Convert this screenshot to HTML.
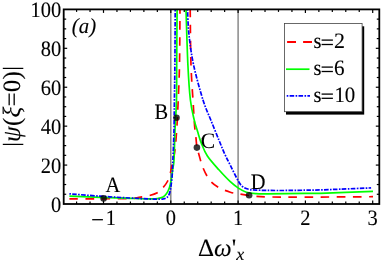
<!DOCTYPE html>
<html><head><meta charset="utf-8">
<style>
html,body{margin:0;padding:0;background:#fff;}
body{width:381px;height:262px;overflow:hidden;}
svg{display:block;will-change:transform;}
text{font-family:"Liberation Serif",serif;fill:#000;stroke:#000;stroke-width:0.1px;text-rendering:geometricPrecision;}
</style></head><body>
<svg width="381" height="262" viewBox="0 0 381 262">
<rect width="381" height="262" fill="#fff"/>
<clipPath id="c1"><rect x="0" y="164.8" width="381" height="60"/></clipPath><clipPath id="c2"><rect x="0" y="0" width="381" height="164.8"/></clipPath>
<clipPath id="c"><rect x="63.7" y="9.4" width="315.6" height="194.6"/></clipPath>
<g stroke="#808080" stroke-width="1.4">
<line x1="170.8" y1="9.4" x2="170.8" y2="204.0"/>
<line x1="238.10" y1="9.4" x2="238.10" y2="204.0"/>
</g>
<g fill="none" stroke-width="1.7" clip-path="url(#c)">
<path d="M69.40,198.80C74.50,198.80 89.90,198.85 100.00,198.80C110.10,198.75 123.50,198.73 130.00,198.50C136.50,198.27 135.80,197.88 139.00,197.40C142.20,196.92 146.15,196.38 149.20,195.60C152.25,194.82 154.98,194.05 157.30,192.70C159.62,191.35 161.37,189.45 163.10,187.50C164.83,185.55 166.45,183.58 167.70,181.00C168.95,178.42 169.88,174.70 170.60,172.00C171.32,169.30 171.27,168.47 172.00,164.80C172.73,161.13 174.50,152.47 175.00,150.00" stroke="#ff0000" stroke-dasharray="8.6 7.5" clip-path="url(#c1)"/>
<path d="M170.60,172.00C170.83,170.80 171.27,168.47 172.00,164.80C172.73,161.13 174.17,156.63 175.00,150.00C175.83,143.37 176.47,133.33 177.00,125.00C177.53,116.67 177.78,110.00 178.20,100.00C178.62,90.00 179.20,80.12 179.50,65.00C179.80,49.88 179.92,18.58 180.00,9.30" stroke="#ff0000" stroke-dasharray="8.6 7.4" stroke-dashoffset="1.15" clip-path="url(#c2)"/>
<path d="M190.20,9.50C190.33,18.75 190.48,49.08 191.00,65.00C191.52,80.92 192.70,94.87 193.30,105.00C193.90,115.13 194.17,120.42 194.60,125.80C195.03,131.18 195.52,133.77 195.90,137.30C196.28,140.83 196.43,144.27 196.90,147.00C197.37,149.73 197.70,150.28 198.70,153.70C199.70,157.12 201.07,163.10 202.90,167.50C204.73,171.90 207.03,176.75 209.70,180.10C212.37,183.45 215.47,185.58 218.90,187.60C222.33,189.62 227.05,191.17 230.30,192.20C233.55,193.23 235.25,193.25 238.40,193.80C241.55,194.35 244.43,194.98 249.20,195.50C253.97,196.02 257.70,196.63 267.00,196.90C276.30,197.17 287.33,197.13 305.00,197.10C322.67,197.07 361.67,196.77 373.00,196.70" stroke="#ff0000" stroke-dasharray="8.6 7.47" stroke-dashoffset="0.8"/>
<path d="M69.40,196.20C74.50,196.38 89.90,196.95 100.00,197.30C110.10,197.65 121.67,198.03 130.00,198.30C138.33,198.57 145.45,198.83 150.00,198.90C154.55,198.97 155.12,199.00 157.30,198.70C159.48,198.40 161.55,197.95 163.10,197.10C164.65,196.25 165.63,194.95 166.60,193.60C167.57,192.25 168.28,190.53 168.90,189.00C169.52,187.47 169.92,185.93 170.30,184.40C170.68,182.87 170.90,181.53 171.20,179.80C171.50,178.07 171.82,175.97 172.10,174.00C172.38,172.03 172.58,170.33 172.90,168.00C173.22,165.67 173.65,166.33 174.00,160.00C174.35,153.67 174.58,140.00 175.00,130.00C175.42,120.00 176.22,110.83 176.50,100.00C176.78,89.17 176.60,80.08 176.70,65.00C176.80,49.92 177.03,18.75 177.10,9.50" stroke="#00ff00"/>
<path d="M186.00,9.50C186.32,18.75 187.17,49.92 187.90,65.00C188.63,80.08 189.35,90.83 190.40,100.00C191.45,109.17 193.00,114.75 194.20,120.00C195.40,125.25 196.42,127.65 197.60,131.50C198.78,135.35 199.67,139.02 201.30,143.10C202.93,147.18 204.47,151.55 207.40,156.00C210.33,160.45 215.08,165.52 218.90,169.80C222.72,174.08 227.05,178.65 230.30,181.70C233.55,184.75 235.72,186.35 238.40,188.10C241.08,189.85 243.47,191.28 246.40,192.20C249.33,193.12 252.57,193.33 256.00,193.60C259.43,193.87 258.83,193.83 267.00,193.80C275.17,193.77 296.17,193.48 305.00,193.40C313.83,193.32 308.67,193.63 320.00,193.30C331.33,192.97 364.17,191.72 373.00,191.40" stroke="#00ff00"/>
<path d="M69.40,193.80C74.50,194.20 89.90,195.50 100.00,196.20C110.10,196.90 121.67,197.53 130.00,198.00C138.33,198.47 145.00,198.80 150.00,199.00C155.00,199.20 157.82,199.20 160.00,199.20C162.18,199.20 162.00,199.25 163.10,199.00C164.20,198.75 165.63,198.40 166.60,197.70C167.57,197.00 168.28,196.05 168.90,194.80C169.52,193.55 169.92,191.93 170.30,190.20C170.68,188.47 170.90,186.68 171.20,184.40C171.50,182.12 171.87,179.23 172.10,176.50C172.33,173.77 172.47,170.75 172.60,168.00C172.73,165.25 172.67,166.33 172.90,160.00C173.13,153.67 173.75,140.00 174.00,130.00C174.25,120.00 174.25,110.83 174.40,100.00C174.55,89.17 174.77,80.08 174.90,65.00C175.03,49.92 175.15,18.75 175.20,9.50" stroke="#0000ff" stroke-dasharray="1.6 1.3 4.6 1.4"/>
<path d="M187.50,9.50C187.75,13.75 187.98,25.75 189.00,35.00C190.02,44.25 191.27,54.17 193.60,65.00C195.93,75.83 200.13,90.83 203.00,100.00C205.87,109.17 208.15,113.33 210.80,120.00C213.45,126.67 216.60,134.38 218.90,140.00C221.20,145.62 222.70,149.50 224.60,153.70C226.50,157.90 228.00,160.62 230.30,165.20C232.60,169.78 236.30,177.58 238.40,181.20C240.50,184.82 241.18,185.55 242.90,186.90C244.62,188.25 246.52,188.77 248.70,189.30C250.88,189.83 251.20,189.90 256.00,190.10C260.80,190.30 269.33,190.48 277.50,190.50C285.67,190.52 297.92,190.30 305.00,190.20C312.08,190.10 314.17,190.07 320.00,189.90C325.83,189.73 331.48,189.53 340.00,189.20C348.52,188.87 365.92,188.12 371.10,187.90" stroke="#0000ff" stroke-dasharray="1.6 1.3 4.6 1.4"/>
</g>
<g fill="#000" fill-opacity="0.78">
<circle cx="103.6" cy="198.4" r="3.3"/>
<circle cx="176.5" cy="117.8" r="3.3"/>
<circle cx="196.9" cy="147.6" r="3.3"/>
<circle cx="249.1" cy="195.2" r="3.3"/>
</g>
<rect x="63.7" y="9.4" width="315.6" height="194.6" fill="none" stroke="#000" stroke-width="1.8"/>
<g stroke="#000" stroke-width="1.2">
<line x1="76.58" y1="204.0" x2="76.58" y2="201.5"/><line x1="76.58" y1="9.4" x2="76.58" y2="11.9"/><line x1="90.04" y1="204.0" x2="90.04" y2="201.5"/><line x1="90.04" y1="9.4" x2="90.04" y2="11.9"/><line x1="103.50" y1="204.0" x2="103.50" y2="200.5"/><line x1="103.50" y1="9.4" x2="103.50" y2="12.9"/><line x1="116.96" y1="204.0" x2="116.96" y2="201.5"/><line x1="116.96" y1="9.4" x2="116.96" y2="11.9"/><line x1="130.42" y1="204.0" x2="130.42" y2="201.5"/><line x1="130.42" y1="9.4" x2="130.42" y2="11.9"/><line x1="143.88" y1="204.0" x2="143.88" y2="201.5"/><line x1="143.88" y1="9.4" x2="143.88" y2="11.9"/><line x1="157.34" y1="204.0" x2="157.34" y2="201.5"/><line x1="157.34" y1="9.4" x2="157.34" y2="11.9"/><line x1="170.80" y1="204.0" x2="170.80" y2="200.5"/><line x1="170.80" y1="9.4" x2="170.80" y2="12.9"/><line x1="184.26" y1="204.0" x2="184.26" y2="201.5"/><line x1="184.26" y1="9.4" x2="184.26" y2="11.9"/><line x1="197.72" y1="204.0" x2="197.72" y2="201.5"/><line x1="197.72" y1="9.4" x2="197.72" y2="11.9"/><line x1="211.18" y1="204.0" x2="211.18" y2="201.5"/><line x1="211.18" y1="9.4" x2="211.18" y2="11.9"/><line x1="224.64" y1="204.0" x2="224.64" y2="201.5"/><line x1="224.64" y1="9.4" x2="224.64" y2="11.9"/><line x1="238.10" y1="204.0" x2="238.10" y2="200.5"/><line x1="238.10" y1="9.4" x2="238.10" y2="12.9"/><line x1="251.56" y1="204.0" x2="251.56" y2="201.5"/><line x1="251.56" y1="9.4" x2="251.56" y2="11.9"/><line x1="265.02" y1="204.0" x2="265.02" y2="201.5"/><line x1="265.02" y1="9.4" x2="265.02" y2="11.9"/><line x1="278.48" y1="204.0" x2="278.48" y2="201.5"/><line x1="278.48" y1="9.4" x2="278.48" y2="11.9"/><line x1="291.94" y1="204.0" x2="291.94" y2="201.5"/><line x1="291.94" y1="9.4" x2="291.94" y2="11.9"/><line x1="305.40" y1="204.0" x2="305.40" y2="200.5"/><line x1="305.40" y1="9.4" x2="305.40" y2="12.9"/><line x1="318.86" y1="204.0" x2="318.86" y2="201.5"/><line x1="318.86" y1="9.4" x2="318.86" y2="11.9"/><line x1="332.32" y1="204.0" x2="332.32" y2="201.5"/><line x1="332.32" y1="9.4" x2="332.32" y2="11.9"/><line x1="345.78" y1="204.0" x2="345.78" y2="201.5"/><line x1="345.78" y1="9.4" x2="345.78" y2="11.9"/><line x1="359.24" y1="204.0" x2="359.24" y2="201.5"/><line x1="359.24" y1="9.4" x2="359.24" y2="11.9"/><line x1="372.70" y1="204.0" x2="372.70" y2="200.5"/><line x1="372.70" y1="9.4" x2="372.70" y2="12.9"/><line x1="63.7" y1="194.27" x2="66.2" y2="194.27"/><line x1="379.3" y1="194.27" x2="376.8" y2="194.27"/><line x1="63.7" y1="184.54" x2="66.2" y2="184.54"/><line x1="379.3" y1="184.54" x2="376.8" y2="184.54"/><line x1="63.7" y1="174.81" x2="66.2" y2="174.81"/><line x1="379.3" y1="174.81" x2="376.8" y2="174.81"/><line x1="63.7" y1="165.08" x2="67.2" y2="165.08"/><line x1="379.3" y1="165.08" x2="375.8" y2="165.08"/><line x1="63.7" y1="155.35" x2="66.2" y2="155.35"/><line x1="379.3" y1="155.35" x2="376.8" y2="155.35"/><line x1="63.7" y1="145.62" x2="66.2" y2="145.62"/><line x1="379.3" y1="145.62" x2="376.8" y2="145.62"/><line x1="63.7" y1="135.89" x2="66.2" y2="135.89"/><line x1="379.3" y1="135.89" x2="376.8" y2="135.89"/><line x1="63.7" y1="126.16" x2="67.2" y2="126.16"/><line x1="379.3" y1="126.16" x2="375.8" y2="126.16"/><line x1="63.7" y1="116.43" x2="66.2" y2="116.43"/><line x1="379.3" y1="116.43" x2="376.8" y2="116.43"/><line x1="63.7" y1="106.70" x2="66.2" y2="106.70"/><line x1="379.3" y1="106.70" x2="376.8" y2="106.70"/><line x1="63.7" y1="96.97" x2="66.2" y2="96.97"/><line x1="379.3" y1="96.97" x2="376.8" y2="96.97"/><line x1="63.7" y1="87.24" x2="67.2" y2="87.24"/><line x1="379.3" y1="87.24" x2="375.8" y2="87.24"/><line x1="63.7" y1="77.51" x2="66.2" y2="77.51"/><line x1="379.3" y1="77.51" x2="376.8" y2="77.51"/><line x1="63.7" y1="67.78" x2="66.2" y2="67.78"/><line x1="379.3" y1="67.78" x2="376.8" y2="67.78"/><line x1="63.7" y1="58.05" x2="66.2" y2="58.05"/><line x1="379.3" y1="58.05" x2="376.8" y2="58.05"/><line x1="63.7" y1="48.32" x2="67.2" y2="48.32"/><line x1="379.3" y1="48.32" x2="375.8" y2="48.32"/><line x1="63.7" y1="38.59" x2="66.2" y2="38.59"/><line x1="379.3" y1="38.59" x2="376.8" y2="38.59"/><line x1="63.7" y1="28.86" x2="66.2" y2="28.86"/><line x1="379.3" y1="28.86" x2="376.8" y2="28.86"/><line x1="63.7" y1="19.13" x2="66.2" y2="19.13"/><line x1="379.3" y1="19.13" x2="376.8" y2="19.13"/>
</g>
<text transform="translate(61.30,211.60) scale(0.93,1)" font-size="22px" text-anchor="end">0</text><text transform="translate(61.30,172.68) scale(0.93,1)" font-size="22px" text-anchor="end">20</text><text transform="translate(61.30,133.76) scale(0.93,1)" font-size="22px" text-anchor="end">40</text><text transform="translate(61.30,94.84) scale(0.93,1)" font-size="22px" text-anchor="end">60</text><text transform="translate(61.30,55.92) scale(0.93,1)" font-size="22px" text-anchor="end">80</text><text transform="translate(61.30,17.00) scale(0.93,1)" font-size="22px" text-anchor="end">100</text>
<text transform="translate(170.80,225.20) scale(0.93,1)" font-size="22px" text-anchor="middle">0</text><text transform="translate(238.10,225.20) scale(0.93,1)" font-size="22px" text-anchor="middle">1</text><text transform="translate(305.40,225.20) scale(0.93,1)" font-size="22px" text-anchor="middle">2</text><text transform="translate(372.70,225.20) scale(0.93,1)" font-size="22px" text-anchor="middle">3</text><text transform="translate(110.90,225.20) scale(0.93,1)" font-size="22px" text-anchor="middle">1</text><line x1="92.2" y1="219.7" x2="102.9" y2="219.7" stroke="#000" stroke-width="1.3"/>
<text transform="translate(105.50,191.70) scale(0.93,1)" font-size="22px" text-anchor="start">A</text>
<text transform="translate(154.50,119.00) scale(0.93,1)" font-size="22px" text-anchor="start">B</text>
<text transform="translate(200.80,147.50) scale(0.98,1)" font-size="22px" text-anchor="start">C</text>
<text transform="translate(250.80,188.60) scale(0.93,1)" font-size="22px" text-anchor="start">D</text>
<text transform="translate(71.80,33.00) scale(0.97,1)" font-size="21.5px" text-anchor="start" font-style="italic">(a)</text>
<!-- legend -->
<rect x="286" y="26.3" width="78.2" height="88.3" fill="#000"/>
<rect x="284.5" y="23.5" width="77.6" height="88.2" fill="#fff" stroke="#444" stroke-width="0.8"/>
<line x1="287.1" y1="42.1" x2="312" y2="42.1" stroke="#ff0000" stroke-width="2" stroke-dasharray="8.9 7.1"/>
<line x1="286" y1="69.2" x2="309.5" y2="69.2" stroke="#00ff00" stroke-width="1.7"/>
<line x1="286.7" y1="95.9" x2="310" y2="95.9" stroke="#0000ff" stroke-width="1.7" stroke-dasharray="1.6 1.3 4.6 1.4"/>
<text transform="translate(313.50,47.60) scale(0.93,1)" font-size="22px" text-anchor="start">s</text><text transform="translate(334.10,47.60) scale(1.0,1)" font-size="22px" text-anchor="start">2</text>
<text transform="translate(313.50,74.60) scale(0.93,1)" font-size="22px" text-anchor="start">s</text><text transform="translate(334.10,74.60) scale(0.96,1)" font-size="22px" text-anchor="start">6</text>
<text transform="translate(313.50,101.80) scale(0.93,1)" font-size="22px" text-anchor="start">s</text><text transform="translate(334.40,101.80) scale(0.95,1)" font-size="22px" text-anchor="start">10</text>
<g stroke="#000" stroke-width="1.3">
<line x1="321.6" y1="40.1" x2="332.9" y2="40.1"/><line x1="321.6" y1="44.5" x2="332.9" y2="44.5"/>
<line x1="321.6" y1="67.1" x2="332.9" y2="67.1"/><line x1="321.6" y1="71.5" x2="332.9" y2="71.5"/>
<line x1="321.6" y1="94.1" x2="332.9" y2="94.1"/><line x1="321.6" y1="98.3" x2="332.9" y2="98.3"/>
</g>
<text transform="translate(19.8,141.9) rotate(-90)" font-size="25px" letter-spacing="0.25"><tspan font-style="italic">ψ</tspan>(<tspan font-style="italic">ξ</tspan>=0)</text>
<g stroke="#000" stroke-width="1.25"><line x1="2.8" y1="144.4" x2="23.3" y2="144.4"/><line x1="2.8" y1="68.4" x2="23.3" y2="68.4"/></g>
<text x="198" y="255.7" font-size="25px">Δ<tspan font-style="italic">ω</tspan>'<tspan font-style="italic" font-size="18px" dy="4.3">x</tspan></text>
</svg>
</body></html>
